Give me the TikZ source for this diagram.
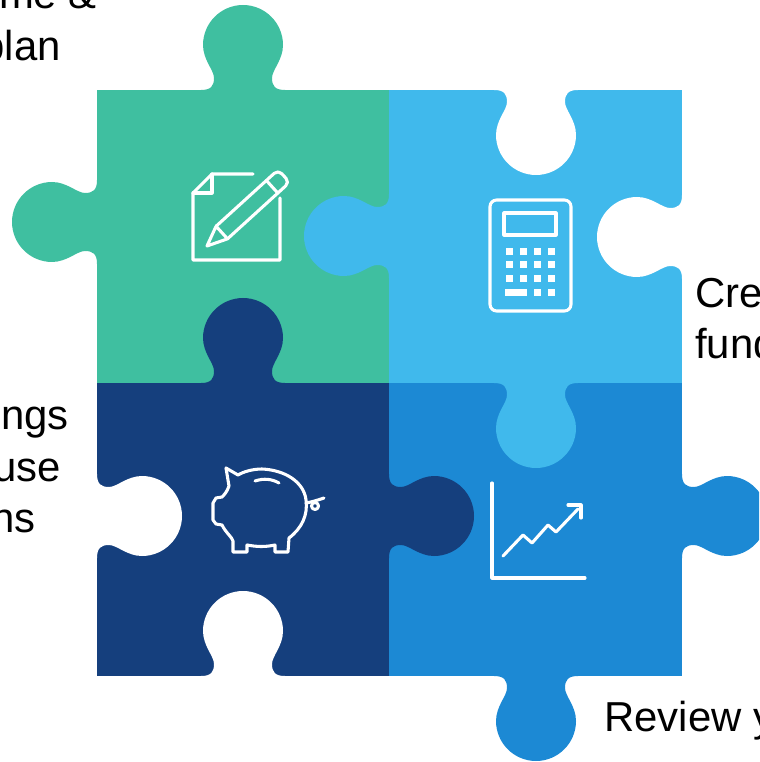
\documentclass[tikz,border=0pt]{standalone}
\usepackage{fontspec}
\setmainfont{Liberation Sans}
\definecolor{cgreen}{HTML}{3FBFA0}
\definecolor{clight}{HTML}{40B9EC}
\definecolor{cnavy}{HTML}{153F7D}
\definecolor{cmed}{HTML}{1C89D4}
\tikzset{
  % puzzle knob: base on the local x axis, bulging towards negative y
  knob/.pic={
    \fill[#1] (-42,3) -- (-42,0)
      .. controls (-32,0) and (-29,-4) .. (-29,-12)
      .. controls (-29,-20) and (-40,-30) .. (-40,-45)
      .. controls (-40,-67) and (-22,-85) .. (0,-85)
      .. controls (22,-85) and (40,-67) .. (40,-45)
      .. controls (40,-30) and (29,-20) .. (29,-12)
      .. controls (29,-4) and (32,0) .. (42,0) -- (42,3) -- cycle;
  },
  icon/.style={draw=white,line width=2.3pt,line cap=round,line join=round},
  caption/.style={inner sep=0pt,font=\fontsize{31.4}{38}\selectfont}
}
\begin{document}
\begin{tikzpicture}[x=0.75pt,y=-0.75pt]
\useasboundingbox (0,0) rectangle (759,762);
\clip (0,0) rectangle (759,762);

% the four pieces
\fill[cgreen] (97,90) rectangle (390,384);
\fill[clight] (389,90) rectangle (682,384);
\fill[cnavy]  (97,383) rectangle (390,676);
\fill[cmed]   (389,383) rectangle (682,676);

% knobs sticking out of each piece
\pic at (243,90) {knob=cgreen};
\pic[rotate=90] at (97,222) {knob=cgreen};
\pic[rotate=90] at (389,236) {knob=clight};
\pic[rotate=180] at (536,383) {knob=clight};
\pic at (243,383) {knob=cnavy};
\pic[rotate=-90] at (389,516) {knob=cnavy};
\pic[rotate=-90] at (682,516) {knob=cmed};
\pic[rotate=180] at (536,676) {knob=cmed};

% open sockets on the outer edges
\pic[rotate=180] at (536,90) {knob=white};
\pic[rotate=90] at (682,237) {knob=white};
\pic[rotate=-90] at (97,516) {knob=white};
\pic at (243,676) {knob=white};

% note and pencil
\draw[icon] (253,174) -- (212,174) -- (193,193) -- (193,260) -- (280,260) -- (280,198);
\draw[icon] (212,174) -- (212,193) -- (193,193);
\begin{scope}[shift={(207,246)},rotate=42.3]
  \draw[icon] (20,-8.5) -- (0,0) -- (20,8.5) -- cycle;
  \draw[icon,rounded corners=4] (20,-8.5) -- (104,-8.5) -- (104,8.5) -- (20,8.5);
  \draw[icon] (88,-8.5) -- (88,8.5);
\end{scope}

% calculator
\draw[icon,rounded corners=5] (490,200) rectangle (571,311);
\draw[icon] (504,213) rectangle (556,235);
\foreach \cy in {252,265,279} {
  \foreach \cx in {509,523,537,551} {
    \fill[white] (\cx-3.5,\cy-3.5) rectangle (\cx+3.5,\cy+3.5);
  }
}
\fill[white] (505,289.5) rectangle (527,296.5);
\fill[white] (533.5,289.5) rectangle (540.5,296.5);
\fill[white] (547.5,289.5) rectangle (554.5,296.5);

% piggy bank
\draw[icon] (222,497) -- (216,498) -- (213,503) -- (213,520) -- (216,524) -- (222,525)
  .. controls (226,533) and (232,537) .. (233,541) -- (233,552) -- (247,552) -- (247,545)
  .. controls (258,547) and (265,547) .. (275,545) -- (275,552) -- (288,552) -- (289,538)
  .. controls (302,528) and (308,515) .. (306,500)
  .. controls (304,482) and (285,470) .. (262,469)
  .. controls (252,469) and (243,472) .. (238,475)
  -- (226,468) -- (229,486)
  .. controls (227,492) and (224,495) .. (222,497) -- cycle;
\draw[icon] (255,481) .. controls (264,478) and (272,479) .. (279,483);
\draw[icon] (306,503) .. controls (312,502) and (318,500) .. (324,498);
\draw[icon] (315,506) circle (3.5);

% rising chart
\draw[icon] (492,483) -- (492,578) -- (585,578);
\draw[icon] (503,556) -- (523,535) -- (532,543) -- (548,525) -- (556,532) -- (578,509);
\draw[icon] (568,505) -- (581,505) -- (581,518);

% captions
\node[caption,anchor=base east] (t1) at (97,9) {time \&};
\node[caption,anchor=base east] (t2) at (61,61) {plan};
\node[caption,anchor=base east] (t3) at (69,429) {Savings};
\node[caption,anchor=base east] (t4) at (61,481) {house};
\node[caption,anchor=base east] (t5) at (36,532) {options};
\node[caption,anchor=base west] (t6) at (695,307) {Create};
\node[caption,anchor=base west] (t7) at (695,358) {fund};
\node[caption,anchor=base west] (t8) at (604,731) {Review your};
\end{tikzpicture}
\end{document}
